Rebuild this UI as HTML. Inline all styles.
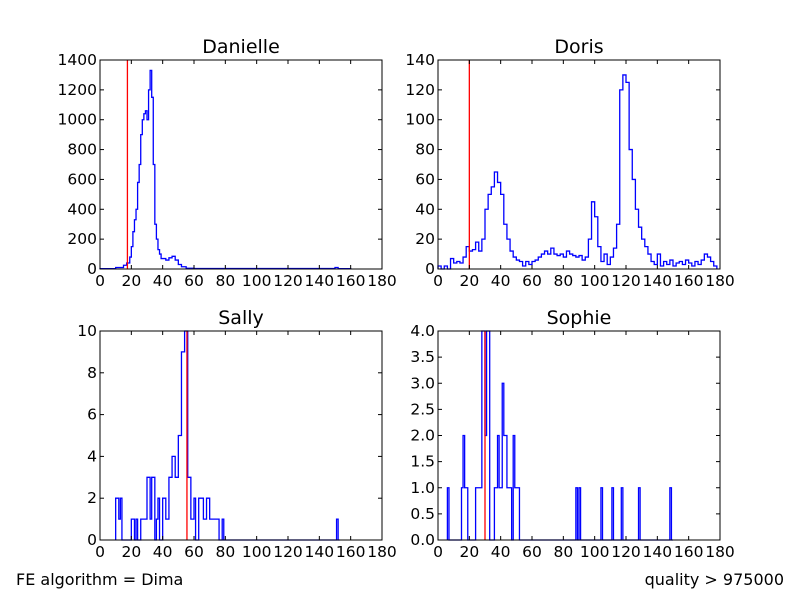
<!DOCTYPE html>
<html><head><meta charset="utf-8"><style>
body{margin:0;background:#fff;}
svg{display:block;font-family:"DejaVu Sans","Liberation Sans",sans-serif;}
</style></head><body>
<svg id="s" width="800" height="600" xmlns="http://www.w3.org/2000/svg">
<rect width="800" height="600" fill="#fff"/>
<text x="16" y="585" font-size="16">FE algorithm = Dima</text>
<text x="784" y="585" font-size="16" text-anchor="end">quality &gt; 975000</text>
</svg>
<script>
const NS="http://www.w3.org/2000/svg",S=document.getElementById('s');
function el(t,a,txt){const e=document.createElementNS(NS,t);for(const k in a)e.setAttribute(k,a[k]);if(txt!==undefined)e.textContent=txt;S.appendChild(e);return e;}
function plot(x0,y0,title,ymax,yticks,yfmt,bins,red){
 const W=282,H=209,y1=y0+H;
 const X=v=>x0+v/180*W,Y=v=>y1-v/ymax*H;
 el('text',{x:x0+W/2,y:y0-7,'font-size':19,'text-anchor':'middle'},title);
 let d='M'+X(bins[0][0])+','+Y(0);
 for(const b of bins){d+=' L'+X(b[0])+','+Y(b[2])+' L'+X(b[1])+','+Y(b[2]);}
 d+=' L'+X(bins[bins.length-1][1])+','+Y(0);
 el('path',{d:d,fill:'none',stroke:'#00f','stroke-width':1.3});
 el('line',{x1:X(red),x2:X(red),y1:y0,y2:y1,stroke:'#f00','stroke-width':1.3});
 el('rect',{x:x0,y:y0,width:W,height:H,fill:'none',stroke:'#000','stroke-width':1});
 for(let v=0;v<=180;v+=20){const x=X(v);
  el('line',{x1:x,x2:x,y1:y1,y2:y1-4,stroke:'#000'});el('line',{x1:x,x2:x,y1:y0,y2:y0+4,stroke:'#000'});
  el('text',{x:x,y:y1+17,'font-size':15.5,'text-anchor':'middle'},String(v));}
 for(const v of yticks){const y=Y(v);
  el('line',{x1:x0,x2:x0+4,y1:y,y2:y,stroke:'#000'});el('line',{x1:x0+W,x2:x0+W-4,y1:y,y2:y,stroke:'#000'});
  el('text',{x:x0-3,y:y+5,'font-size':15.5,'text-anchor':'end'},yfmt(v));}
}
function fromList(l){const r=[];for(let i=0;i<l.length-1;i++)r.push([l[i][0],l[i+1][0],l[i][1]]);return r;}
const dan=fromList([[0,2],[10,10],[15,25],[17,40],[19,80],[20,150],[21,250],[22,330],[23,400],[24,580],[25,700],[26,900],[27,1000],[28,1040],[29,1060],[30,1000],[31,1200],[32,1330],[33,1150],[34,700],[35,300],[36,200],[37,130],[38,100],[39,70],[42,60],[44,75],[46,85],[48,60],[50,30],[52,15],[55,5],[60,3],[150,10],[152,2],[160,0]]);
const dorV=[2,0,2,0,7,4,5,4,8,15,12,13,18,12,20,40,50,55,65,58,50,30,20,12,8,6,5,2,5,3,5,6,8,10,12,10,14,10,9,10,8,12,10,9,8,9,6,8,20,45,35,15,5,10,3,8,14,30,120,130,125,80,60,40,28,20,15,10,5,3,10,2,5,3,6,2,4,5,3,6,4,2,5,3,6,10,8,5,2];
const dor=dorV.map((v,i)=>[i*2,i*2+2,v]).filter(b=>b[1]<=178);
const sal=fromList([[10,2],[12,1],[13,2],[14,0],[20,1],[22,0],[23,1],[24,0],[26,1],[30,3],[32,1],[33,3],[35,0],[36,1],[37,2],[38,0],[40,2],[42,1],[44,3],[46,4],[48,3],[50,5],[52,9],[54,10],[56,3],[58,1],[60,2],[61,0],[63,2],[66,1],[68,2],[70,1],[72,1],[76,0],[78,1],[79,0],[151,1],[152,0],[153,0]]);
const sop=fromList([[6,1],[7,0],[15,1],[16,2],[17,1],[19,0],[24,1],[26,1],[28,4],[30,2],[31,4],[33,0],[36,1],[38,2],[39,1],[41,3],[42,2],[44,1],[46,1],[47,0],[48,2],[49,1],[52,0],[88,1],[89,0],[90,1],[91,0],[104,1],[105,0],[111,1],[112,0],[117,1],[118,0],[128,1],[129,0],[148,1],[149,0],[150,0]]);
plot(100,60,'Danielle',1400,[0,200,400,600,800,1000,1200,1400],v=>String(v),dan,17.5);
plot(438,60,'Doris',140,[0,20,40,60,80,100,120,140],v=>String(v),dor,20);
plot(100,331,'Sally',10,[0,2,4,6,8,10],v=>String(v),sal,55.5);
plot(438,331,'Sophie',4,[0,0.5,1,1.5,2,2.5,3,3.5,4],v=>v.toFixed(1),sop,30);
</script>
</body></html>
